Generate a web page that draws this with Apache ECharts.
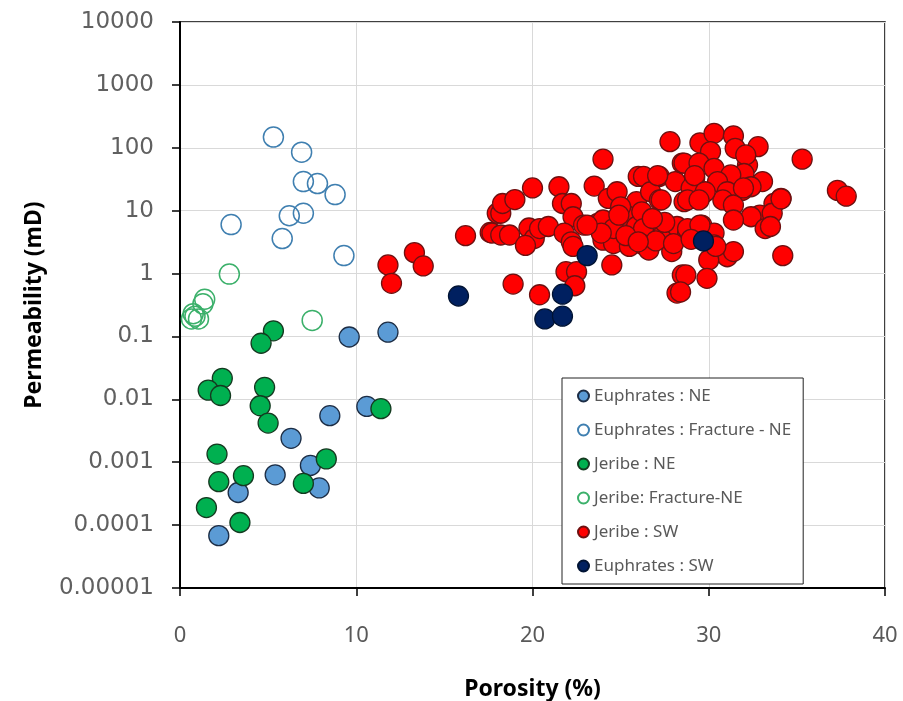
<!DOCTYPE html>
<html>
<head>
<meta charset="utf-8">
<script src="https://cdn.jsdelivr.net/npm/echarts@6/dist/echarts.min.js"></script>
<style>
  html, body { margin: 0; padding: 0; background: #fff; }
</style>
</head>
<body>
<div id="chart" style="width: 903px; height: 701px;"></div>
<script>
// y 轴刻度标签 (对数)
var yTickLabels = ['0.00001', '0.0001', '0.001', '0.01', '0.1', '1', '10', '100', '1000', '10000'];
var xTickLabels = ['0', '10', '20', '30', '40'];

// [porosity %, permeability mD]
var euphratesNE = [
  [9.6, 0.098], [11.8, 0.117], [10.6, 0.0077], [8.5, 0.0055], [6.3, 0.0024],
  [7.4, 0.00089], [7.9, 0.00039], [5.4, 0.00063], [3.3, 0.00033], [2.2, 0.000068]
];
var euphratesFracNE = [
  [5.3, 148], [6.9, 85], [7.0, 29], [7.8, 27], [8.8, 18], [2.9, 6.0],
  [6.2, 8.3], [7.0, 9.1], [5.8, 3.6], [9.3, 1.93]
];
var jeribeNE = [
  [5.3, 0.123], [4.6, 0.078], [2.4, 0.0216], [1.6, 0.014], [2.3, 0.0115],
  [4.8, 0.0155], [4.55, 0.0079], [5.0, 0.0042], [11.4, 0.0071], [2.1, 0.00135],
  [2.2, 0.00049], [3.6, 0.00061], [1.5, 0.00019], [3.4, 0.00011], [8.3, 0.00113],
  [7.0, 0.00046]
];
var jeribeFracNE = [
  [2.8, 0.98], [1.4, 0.39], [1.3, 0.33], [0.85, 0.21], [0.75, 0.23],
  [1.05, 0.19], [0.65, 0.19], [7.5, 0.18]
];
var jeribeSW = [
  [11.8, 1.37], [12.0, 0.70], [13.3, 2.15], [13.8, 1.32], [16.2, 4.0], [17.6, 4.5],
  [17.7, 4.4], [18.2, 4.1], [18.7, 4.1], [18.0, 9.1], [18.2, 9.1], [18.3, 13],
  [19.0, 15], [20.0, 23], [19.8, 5.3], [20.1, 3.6], [19.6, 2.8], [20.4, 5.2],
  [20.9, 5.6], [21.5, 24], [21.7, 13], [22.2, 13], [22.3, 8.0], [21.8, 4.4],
  [22.2, 3.2], [22.3, 2.7], [22.9, 5.9], [23.5, 24.6], [24.0, 66], [23.7, 6.3],
  [24.0, 7.1], [24.3, 15.7], [24.8, 20], [24.0, 3.4], [24.6, 3.0], [24.5, 1.37],
  [25.5, 2.7], [25.9, 13.9], [21.9, 1.07], [22.5, 1.07], [22.4, 0.64], [18.9, 0.68],
  [20.4, 0.46], [24.6, 5.2], [25.0, 10], [25.3, 8.5], [25.9, 5.6], [26.0, 35],
  [25.0, 11.5], [24.9, 8.5], [23.9, 4.4], [23.1, 5.9], [26.3, 35], [27.2, 35],
  [28.1, 29], [28.5, 57], [26.7, 20], [27.2, 14.8], [28.6, 13.9], [26.2, 9.6],
  [26.3, 5.2], [27.4, 4.1], [28.2, 5.6], [28.8, 4.4], [26.3, 2.85], [26.6, 2.37],
  [27.9, 2.24], [28.5, 0.95], [28.2, 0.49], [27.8, 125], [29.5, 120], [30.3, 170],
  [31.4, 155], [31.5, 98], [32.8, 104], [30.1, 87], [28.6, 57], [29.45, 57],
  [30.3, 47], [32.2, 53], [32.1, 77], [32.0, 39], [31.25, 37], [33.05, 29],
  [29.2, 33], [30.5, 29], [32.4, 24], [31.9, 21], [31.05, 20], [29.7, 19],
  [29.0, 23], [34.1, 15.7], [33.7, 13], [28.8, 14.8], [30.8, 14.8], [31.4, 12.3],
  [32.9, 8.5], [32.4, 8.0], [33.6, 9.1], [31.4, 7.1], [33.2, 5.2], [29.6, 5.9],
  [28.8, 5.2], [30.3, 4.4], [30.3, 2.85], [31.05, 1.85], [31.4, 2.24], [30.0, 1.65],
  [34.2, 1.93], [28.7, 0.95], [29.9, 0.84], [28.4, 0.51], [35.3, 66], [37.3, 21],
  [37.8, 17], [34.1, 15.4], [33.5, 5.6], [29.5, 5.9], [30.4, 2.7], [27.1, 36],
  [29.2, 36], [29.8, 20], [27.3, 14.8], [29.45, 14.8], [31.97, 23], [27.0, 3.3],
  [28.0, 3.0], [29.0, 3.5], [27.5, 6.5], [26.8, 7.5], [25.3, 4.0], [26.0, 3.2]
];
var euphratesSW = [
  [15.8, 0.44], [23.1, 1.93], [21.7, 0.47], [20.7, 0.19], [21.7, 0.21], [29.7, 3.3]
];

var myChart = echarts.init(document.getElementById('chart'));

function filled(name, data, fill, border, z) {
  return {
    name: name, type: 'scatter', data: data, symbol: 'circle', symbolSize: 20, z: z,
    itemStyle: { color: fill, borderColor: border, borderWidth: 1.3, opacity: 1 }
  };
}
function hollow(name, data, stroke, z) {
  return {
    name: name, type: 'scatter', data: data, symbol: 'circle', symbolSize: 20, z: z,
    itemStyle: { color: 'rgba(255,255,255,0)', borderColor: stroke, borderWidth: 1.5, opacity: 1 }
  };
}

myChart.setOption({
  animation: false,
  backgroundColor: '#fff',
  grid: {
    left: 180, right: 18, top: 22, bottom: 113,
    outerBoundsMode: 'none', containLabel: false,
    show: true, borderColor: '#000', borderWidth: 1.5, backgroundColor: 'transparent'
  },
  legend: {
    orient: 'vertical',
    left: 562, top: 378,
    padding: [9, 12, 9, 15],
    borderColor: '#222', borderWidth: 1, backgroundColor: '#fff',
    itemWidth: 11, itemHeight: 11, itemGap: 16,
    icon: 'circle',
    textStyle: { color: '#595959', fontSize: 17, fontFamily: 'Noto Sans', lineHeight: 18 },
    data: ['Euphrates : NE', 'Euphrates : Fracture - NE', 'Jeribe : NE',
           'Jeribe: Fracture-NE', 'Jeribe : SW', 'Euphrates : SW']
  },
  xAxis: {
    type: 'value', min: 0, max: 40, interval: 10,
    name: 'Porosity (%)', nameLocation: 'middle', nameGap: 90,
    nameTextStyle: { color: '#000', fontSize: 23, fontWeight: 'bold', fontFamily: 'Noto Sans' },
    axisLine: { show: true, lineStyle: { color: '#000', width: 2 } },
    axisTick: { show: true, length: 8, lineStyle: { color: '#000', width: 1.5 } },
    axisLabel: {
      margin: 37, color: '#595959', fontSize: 22, fontFamily: 'Noto Sans',
      formatter: function (v) { return xTickLabels[Math.round(v / 10)]; }
    },
    splitLine: { show: true, lineStyle: { color: '#d9d9d9', width: 1 } }
  },
  yAxis: {
    type: 'log', logBase: 10, min: 0.00001, max: 10000, interval: 1,
    name: 'Permeability (mD)', nameLocation: 'middle', nameGap: 134,
    nameTextStyle: { color: '#000', fontSize: 23, fontWeight: 'bold', fontFamily: 'Noto Sans' },
    axisLine: { show: true, lineStyle: { color: '#000', width: 2 } },
    axisTick: { show: true, length: 8, lineStyle: { color: '#000', width: 1.5 } },
    axisLabel: {
      margin: 26, color: '#606060', fontSize: 23, fontFamily: 'DejaVu Sans',
      formatter: function (v) { return yTickLabels[Math.round(Math.log10(v)) + 5]; }
    },
    splitLine: { show: true, lineStyle: { color: '#d9d9d9', width: 1 } },
    minorTick: { show: false }
  },
  series: [
    filled('Euphrates : NE', euphratesNE, '#5B9BD5', '#1c2d45', 3),
    hollow('Euphrates : Fracture - NE', euphratesFracNE, '#3f7fb0', 3),
    filled('Jeribe : NE', jeribeNE, '#00B050', '#143a20', 4),
    hollow('Jeribe: Fracture-NE', jeribeFracNE, '#3bb06a', 4),
    filled('Jeribe : SW', jeribeSW, '#FF0000', '#6e1010', 2),
    filled('Euphrates : SW', euphratesSW, '#002060', '#001333', 5)
  ]
});
</script>
</body>
</html>
